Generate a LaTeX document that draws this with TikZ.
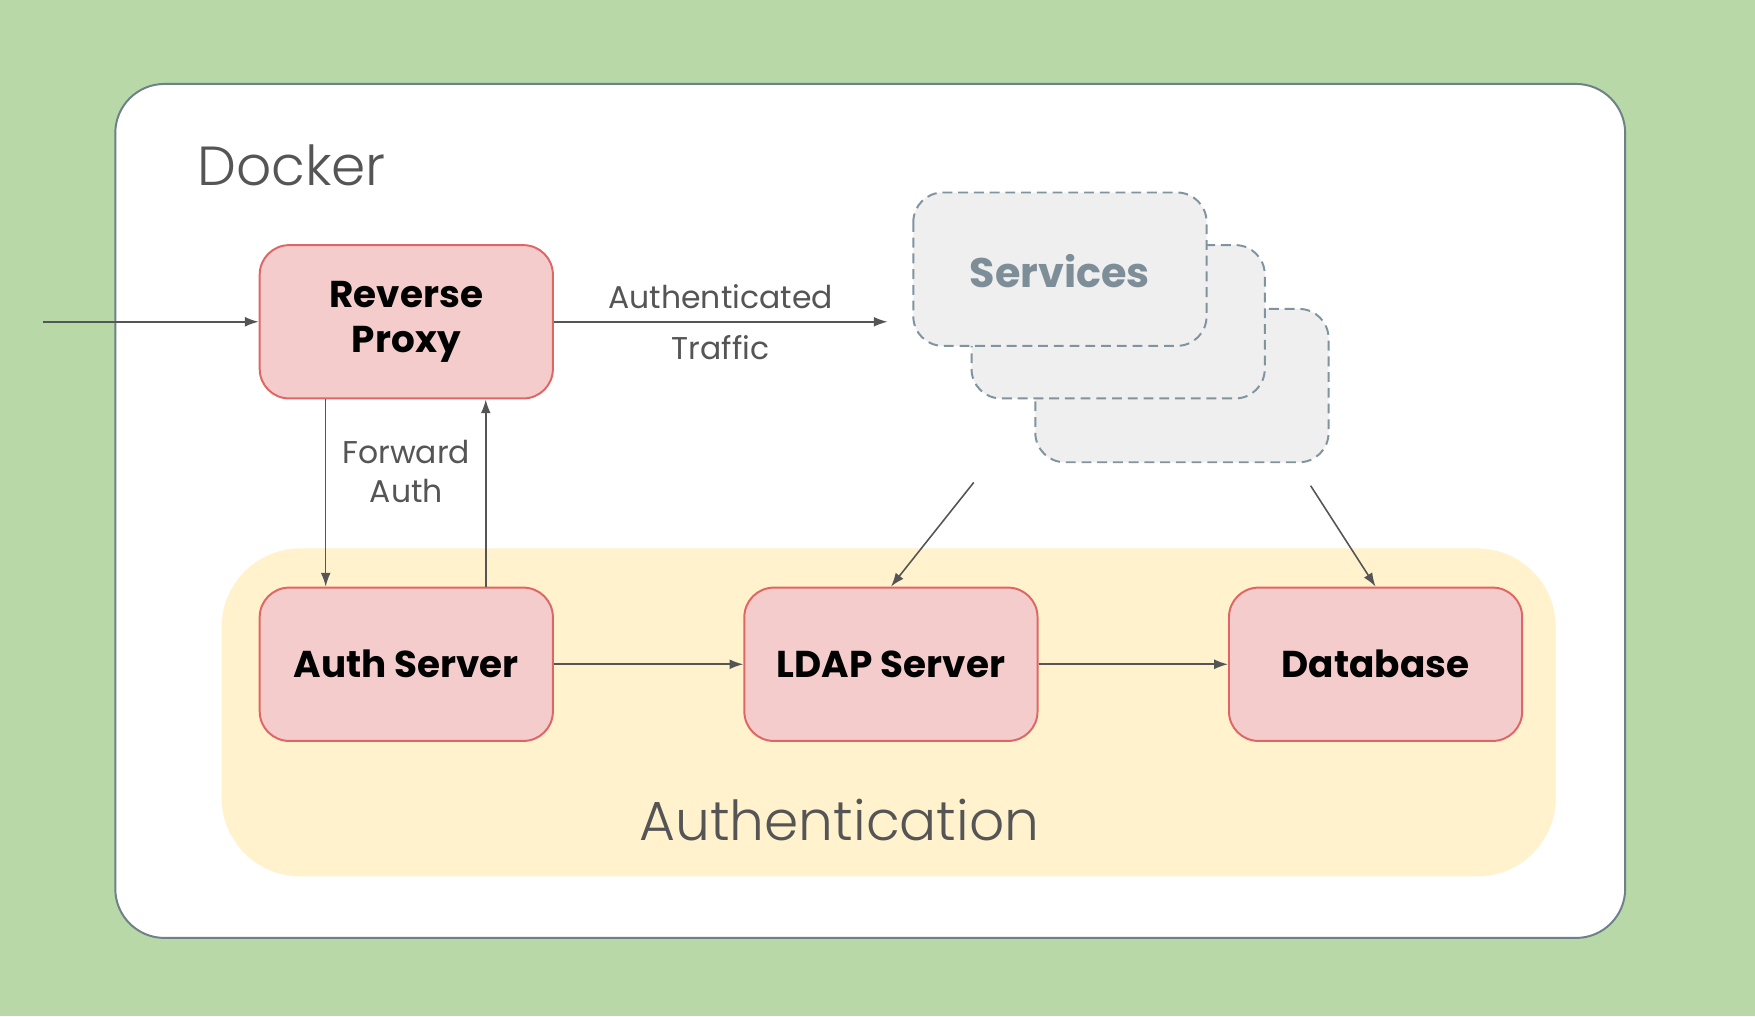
\documentclass[tikz,border=0pt]{standalone}
\usepackage{fontspec}
\setmainfont{Poppins}
\newfontfamily\lightfont{Poppins Light}
\usetikzlibrary{arrows.meta, positioning}
\definecolor{bggreen}{HTML}{B8D8A8}
\definecolor{dockline}{HTML}{6E8088}
\definecolor{authfill}{HTML}{FFF2CC}
\definecolor{boxfill}{HTML}{F4CCCC}
\definecolor{boxline}{HTML}{E06666}
\definecolor{svcfill}{HTML}{EFEFEF}
\definecolor{svcline}{HTML}{8094A0}
\definecolor{svctext}{HTML}{7D8E98}
\definecolor{txt}{HTML}{555555}
\tikzset{>={Latex[length=7pt,width=5pt]}, font=\fontsize{16}{20}\selectfont}
\tikzset{comp/.style={shape=rectangle, draw=boxline, fill=boxfill, line width=1pt,
    rounded corners=15, minimum width=5.24cm, minimum height=2.74cm,
    align=center, font=\fontsize{19}{23}\selectfont\bfseries}}
\tikzset{svc/.style={draw=svcline, fill=svcfill, line width=1pt, dashed,
    dash pattern=on 5pt off 3pt, rounded corners=15}}
\tikzset{flow/.style={->, draw=txt, line width=0.8pt}}
\begin{document}
\begin{tikzpicture}[x=0.02cm, y=-0.02cm]
  \path[fill=bggreen] (0,0) rectangle (1568,908);
  \useasboundingbox (0,0) rectangle (1568,908);
  % docker frame
  \draw[dockline, fill=white, line width=1pt, rounded corners=25] (103,75) rectangle (1452,838);
  \node[anchor=west, text=txt, font=\fontsize{28}{32}\selectfont\lightfont] (docker) at (170,148) {Docker};
  % authentication area
  \path[fill=authfill, rounded corners=40] (198,490) rectangle (1390,783);
  \node[text=txt, font=\fontsize{28}{32}\selectfont\lightfont] (authlbl) at (750,733) {Authentication};
  %%%%% services stack
  \draw[svc] (925,276) rectangle (1187,413);
  \draw[svc] (868,219) rectangle (1130,356);
  \draw[svc] (816,172) rectangle (1078,309);
  \node[text=svctext, font=\fontsize{21}{25}\selectfont\bfseries] (svc) at (947,242) {Services};
  %%%%% components
  \node[comp] (proxy) at (363,287.5) {Reverse\\Proxy};
  \node[comp] (auth) at (363,593.5) {Auth Server};
  \node[comp] (ldap) at (796,593.5) {LDAP Server};
  \node[comp] (db) at (1229,593.5) {Database};
  %%%%% free ends
  \coordinate (in) at (38,287.5);
  \coordinate (svcin) at (793,287.5);
  \coordinate (svcl) at (870,431);
  \coordinate (svcr) at (1171,434);
  %%%%% connectors
  \draw[flow] (in) -- (proxy.west);
  \draw[flow] (proxy.east) -- node[above=3pt, text=txt] {Authenticated}
    node[below=3pt, text=txt] {Traffic} (svcin);
  \draw[flow] (proxy.south -| 291,0) -- (auth.north -| 291,0);
  \draw[flow] (auth.north -| 434,0) -- (proxy.south -| 434,0);
  \node[text=txt, align=center, font=\fontsize{16}{20}\selectfont] (fwd) at (363,421) {Forward\\Auth};
  \draw[flow] (auth.east) -- (ldap.west);
  \draw[flow] (ldap.east) -- (db.west);
  \draw[flow] (svcl) -- (ldap.north);
  \draw[flow] (svcr) -- (db.north);
\end{tikzpicture}
\end{document}
